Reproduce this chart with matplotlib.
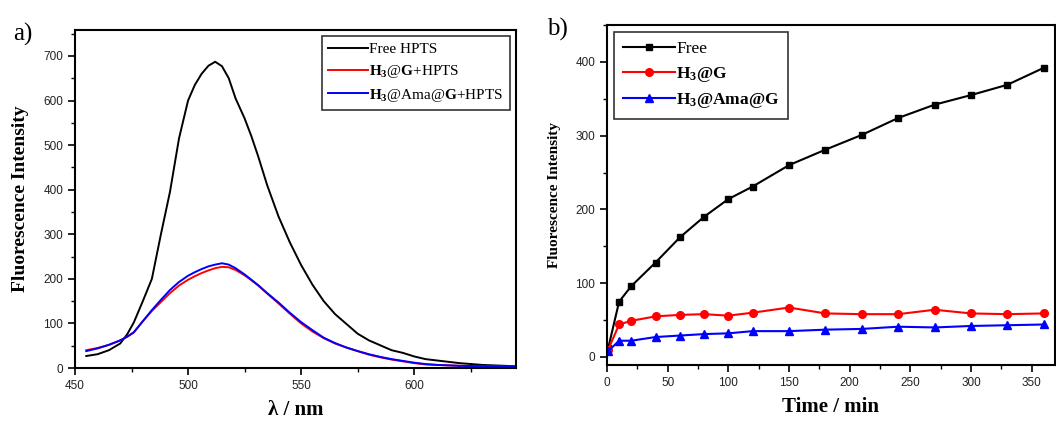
import numpy as np
import matplotlib
matplotlib.use('Agg')
import matplotlib.pyplot as plt
from matplotlib.ticker import MultipleLocator

plt.rcParams['mathtext.fontset'] = 'custom'
plt.rcParams['mathtext.rm'] = 'Liberation Serif'
plt.rcParams['mathtext.bf'] = 'Liberation Serif:bold'
plt.rcParams['mathtext.it'] = 'Liberation Serif:italic'

# panel a) emission spectra
wl = [455, 460, 465, 470, 473, 476, 480, 484, 488, 492, 496, 500, 503, 506, 509, 512,
      515, 518, 521, 525, 528, 531, 535, 540, 545, 550, 555, 560, 565, 570, 575,
      580, 585, 590, 595, 600, 605, 610, 620, 630, 645]
free_hpts = [27, 31, 40, 55, 75, 102, 150, 200, 300, 395, 515, 600, 635, 660, 678, 687,
             677, 650, 605, 560, 520, 475, 410, 340, 282, 231, 187, 150, 121, 99, 77,
             62, 51, 40, 34, 26, 20, 17, 11, 7, 4]
h3g_hpts = [40, 45, 52, 62, 70, 80, 105, 128, 148, 168, 185, 198, 206, 213, 219, 224,
            227, 226, 220, 208, 197, 185, 167, 145, 122, 100, 82, 67, 55, 46, 38,
            30, 24, 19, 15, 11, 8, 7, 5, 4, 3]
h3amag_hpts = [38, 44, 52, 62, 70, 80, 105, 130, 153, 175, 193, 207, 215, 222, 228, 232,
               235, 232, 224, 210, 198, 186, 168, 147, 124, 103, 85, 68, 56, 46, 38,
               31, 25, 20, 16, 12, 9, 7, 5, 4, 3]

# panel b) release kinetics
t_min = [1, 10, 20, 40, 60, 80, 100, 120, 150, 180, 210, 240, 270, 300, 330, 360]
free = [12, 75, 96, 128, 162, 190, 214, 231, 260, 281, 301, 324, 342, 355, 369, 392]
h3g = [10, 44, 49, 55, 57, 58, 56, 60, 67, 59, 58, 58, 64, 59, 58, 59]
h3amag = [8, 22, 22, 27, 29, 31, 32, 35, 35, 37, 38, 41, 40, 42, 43, 44]

serif = 'Liberation Serif'
sans = 'Liberation Sans'

fig = plt.figure(figsize=(10.56, 4.24), dpi=100)
ax1 = fig.add_axes([0.071, 0.132, 0.4176, 0.797])
ax2 = fig.add_axes([0.5748, 0.139, 0.424, 0.802])


def style(ax):
    for s in ax.spines.values():
        s.set_linewidth(1.5)
    ax.tick_params(which='major', direction='out', length=5, width=1.2,
                   labelsize=8.5, labelcolor='#222222')
    ax.tick_params(which='minor', direction='out', length=3, width=1.0)
    for lab in ax.get_xticklabels() + ax.get_yticklabels():
        lab.set_family(sans)


ax1.plot(wl, free_hpts, color='black', lw=1.4, label='Free HPTS')
ax1.plot(wl, h3g_hpts, color='red', lw=1.4, label=r'$\mathbf{H_3}$@$\mathbf{G}$+HPTS')
ax1.plot(wl, h3amag_hpts, color='blue', lw=1.4, label=r'$\mathbf{H_3}$@Ama@$\mathbf{G}$+HPTS')
ax1.set_xlim(450, 645)
ax1.set_ylim(0, 758)
ax1.xaxis.set_major_locator(MultipleLocator(50))
ax1.xaxis.set_minor_locator(MultipleLocator(25))
ax1.yaxis.set_major_locator(MultipleLocator(100))
ax1.yaxis.set_minor_locator(MultipleLocator(50))
style(ax1)
ax1.set_xlabel('λ / nm', family=serif, fontweight='bold', fontsize=15, labelpad=6)
ax1.set_ylabel('Fluorescence Intensity', family=serif, fontweight='bold', fontsize=14, labelpad=10)
leg1 = ax1.legend(loc='upper right', prop={'family': serif, 'size': 11}, frameon=True,
                  fancybox=False, edgecolor='black', handlelength=2.6, handletextpad=0.1,
                  borderpad=0.4, labelspacing=0.45, borderaxespad=0.4)
leg1.get_frame().set_linewidth(1.2)

ax2.plot(t_min, free, color='black', lw=1.5, marker='s', ms=5, label='Free')
ax2.plot(t_min, h3g, color='red', lw=1.5, marker='o', ms=5.5, label=r'$\mathbf{H_3@G}$')
ax2.plot(t_min, h3amag, color='blue', lw=1.5, marker='^', ms=5.5, label=r'$\mathbf{H_3@Ama@G}$')
ax2.set_xlim(0, 369)
ax2.set_ylim(-11, 450)
ax2.xaxis.set_major_locator(MultipleLocator(50))
ax2.xaxis.set_minor_locator(MultipleLocator(25))
ax2.yaxis.set_major_locator(MultipleLocator(100))
ax2.yaxis.set_minor_locator(MultipleLocator(50))
style(ax2)
ax2.set_xlabel('Time / min', family=serif, fontweight='bold', fontsize=15, labelpad=6)
ax2.set_ylabel('Fluorescence Intensity', family=serif, fontweight='bold', fontsize=11, labelpad=10)
leg2 = ax2.legend(loc='upper left', prop={'family': serif, 'size': 12.5}, frameon=True,
                  fancybox=False, edgecolor='black', handlelength=3.0, handletextpad=0.1,
                  borderpad=0.5, labelspacing=0.45, borderaxespad=0.4)
leg2.get_frame().set_linewidth(1.2)

fig.text(0.012, 0.905, 'a)', family=serif, fontsize=18)
fig.text(0.518, 0.915, 'b)', family=serif, fontsize=18)

fig.savefig('out.png', dpi=100)
